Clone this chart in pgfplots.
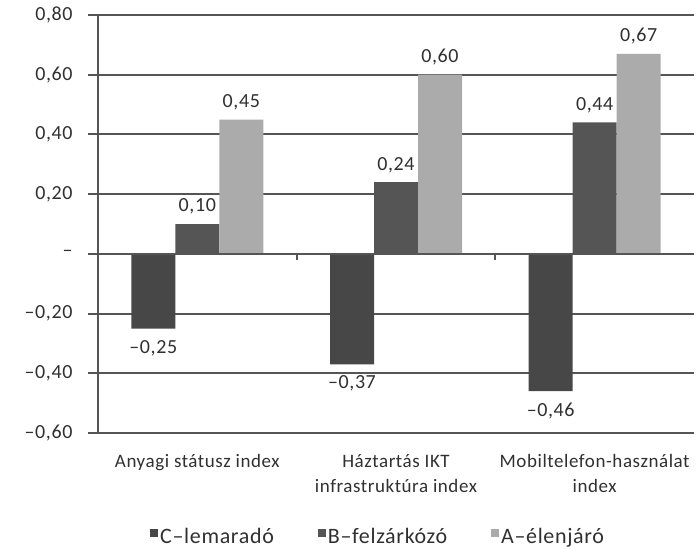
\documentclass[border=0pt]{standalone}
\usepackage{pgfplots}
\pgfplotsset{compat=1.18}
\usepackage{fontspec}
\setmainfont{Carlito}[LetterSpace=3]

\definecolor{gridc}{HTML}{555555}
\definecolor{txt}{HTML}{303030}
\definecolor{barC}{HTML}{474747}
\definecolor{barB}{HTML}{555555}
\definecolor{barA}{HTML}{ABABAB}

\begin{document}
\begin{tikzpicture}[x=1pt,y=1pt]
\useasboundingbox (-98,-116) rectangle (598,433);
\begin{axis}[
    scale only axis,
    width=596pt, height=418pt,
    at={(0,0)}, anchor=south west,
    ybar=0pt, bar width=44pt,
    xmin=-0.5, xmax=2.5,
    ymin=-0.6, ymax=0.8,
    xtick={0,1,2},
    xticklabels={{Anyagi státusz index},{Háztartás IKT\\infrastruktúra index},{Mobiltelefon-használat\\index}},
    xticklabel style={align=center, font=\fontsize{19}{25}\selectfont, text=txt, yshift=-8pt},
    x tick style={draw=none},
    ytick={-0.6,-0.4,-0.2,0,0.2,0.4,0.6,0.8},
    yticklabels={{–0,60},{–0,40},{–0,20},{–\hspace{5pt}},{0,20},{0,40},{0,60},{0,80}},
    yticklabel style={font=\fontsize{20}{24}\selectfont, text=txt,
        text width=52pt, align=right, anchor=east, xshift=-12pt},
    tick pos=left, tick align=outside,
    major tick length=10pt,
    y tick style={draw=gridc, line width=2pt},
    ymajorgrids=true,
    grid style={draw=gridc, line width=2pt},
    axis lines*=left,
    axis line style={draw=gridc, line width=2pt, -},
    point meta=explicit symbolic,
    nodes near coords,
    nodes near coords style={font=\fontsize{20}{24}\selectfont, text=txt},
    legend style={at={(0.47,-0.247)}, anchor=center, draw=none, fill=none,
        legend columns=3, font=\fontsize{22}{25}\selectfont, text=txt,
        /tikz/every even column/.append style={column sep=42pt}},
    legend cell align=left,
    legend image code/.code={\fill[#1] (0pt,-1pt) rectangle (8pt,7pt);},
]
\addplot[fill=barC, draw=none, nodes near coords style={anchor=north, yshift=-8pt}]
    coordinates {(0,-0.25) [–0,25] (1,-0.37) [–0,37] (2,-0.46) [–0,46]};
\addplot[fill=barB, draw=none, nodes near coords style={anchor=south, yshift=6pt}]
    coordinates {(0,0.10) [0,10] (1,0.24) [0,24] (2,0.44) [0,44]};
\addplot[fill=barA, draw=none, nodes near coords style={anchor=south, yshift=6pt}]
    coordinates {(0,0.45) [0,45] (1,0.60) [0,60] (2,0.67) [0,67]};
\draw[gridc, line width=2pt] (axis cs:-0.5,0) -- (axis cs:2.5,0);
\draw[gridc, line width=2pt] (axis cs:0.5,0) -- ++(0pt,-6pt);
\draw[gridc, line width=2pt] (axis cs:1.5,0) -- ++(0pt,-6pt);
\legend{C–lemaradó, B–felzárkózó, A–élenjáró}
\end{axis}
\end{tikzpicture}
\end{document}
